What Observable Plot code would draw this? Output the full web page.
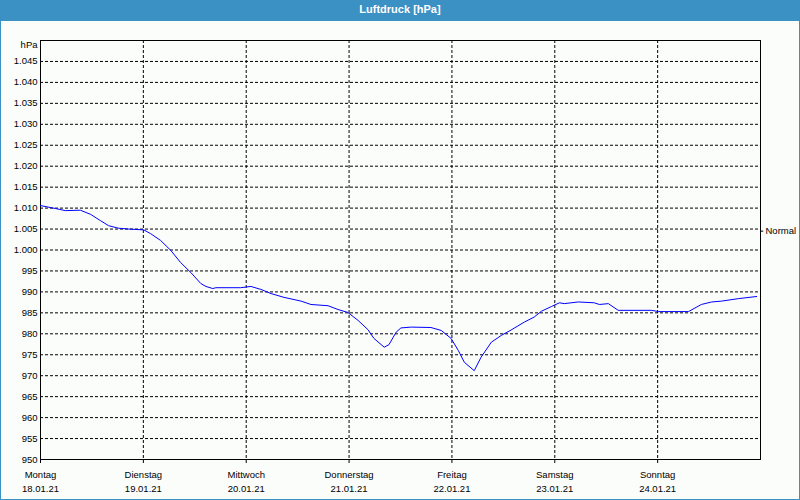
<!DOCTYPE html>
<html>
<head>
<meta charset="utf-8">
<script src="https://cdn.jsdelivr.net/npm/d3@7"></script>
<script src="https://cdn.jsdelivr.net/npm/@observablehq/plot@0.6"></script>
<style>
html, body { margin: 0; padding: 0; background: #fbfdfb; }
#wrap { position: relative; width: 800px; height: 500px; background: #fbfdfb; overflow: hidden; }
#title { position: absolute; left: 0; top: 0; width: 800px; height: 21px; background: #3b90c4; color: #fff;
  font: bold 11px "Liberation Sans", Arial, sans-serif; text-align: center; line-height: 19px; }
#chart { position: absolute; left: 0; top: 20px; }
#border { position: absolute; left: 0; top: 0; width: 800px; height: 500px; box-sizing: border-box;
  border: 1px solid #3b90c4; pointer-events: none; }
</style>
</head>
<body>
<div id="wrap">
  <div id="title">Luftdruck [hPa]</div>
  <div id="chart"></div>
  <div id="border"></div>
</div>
<script>
// Stunden seit Montag 18.01.21 00:00
const hours = [0, 3.5, 5.8, 9.3, 11.7, 14.0, 15.9, 18.2, 20.6, 24.1, 25.7, 28.0, 30.4, 32.7, 35.1, 37.4, 38.6, 40.2, 40.9,
  46.7, 49.1, 51.4, 53.8, 56.8, 60.8, 63.1, 67.1, 69.4, 71.7, 74.1, 76.4, 77.8, 80.2, 81.3, 83.0, 84.1, 86.5, 91.1,
  93.5, 95.8, 97.5, 98.9, 101.2, 102.8, 105.2, 107.5, 109.8, 112.9, 115.2, 116.9, 119.2, 121.1, 122.2, 125.5, 129.2,
  130.4, 132.5, 134.8, 142.6, 144.2, 151.2, 154.2, 156.6, 158.9, 162.9, 167.1];
// Luftdruck in hPa
const pressure = [1010.6, 1009.9, 1009.4, 1009.5, 1008.5, 1007.0, 1005.8, 1005.2, 1005.0, 1004.8, 1003.9, 1002.3, 999.9,
  997.0, 994.6, 992.0, 991.3, 990.8, 991.0, 991.0, 991.3, 990.6, 989.6, 988.7, 987.8, 987.0, 986.7, 985.8, 985.1, 983.2,
  981.0, 978.9, 976.8, 977.4, 980.4, 981.4, 981.6, 981.5, 980.8, 978.9, 976.0, 973.2, 971.2, 974.4, 978.0, 979.6, 980.9,
  982.8, 984.0, 985.4, 986.5, 987.4, 987.2, 987.6, 987.4, 987.0, 987.2, 985.6, 985.6, 985.3, 985.3, 987.0, 987.6, 987.8,
  988.4, 988.9];
const dayNames = ["Montag", "Dienstag", "Mittwoch", "Donnerstag", "Freitag", "Samstag", "Sonntag"];
const dayDates = ["18.01.21", "19.01.21", "20.01.21", "21.01.21", "22.01.21", "23.01.21", "24.01.21"];
const yTicks = [950, 955, 960, 965, 970, 975, 980, 985, 990, 995, 1000, 1005, 1010, 1015, 1020, 1025, 1030, 1035, 1040, 1045];
const yUnit = "hPa";
const normalLabel = "Normal";
const normalValue = 1004.5;

const start = Date.UTC(2021, 0, 18);
const end = Date.UTC(2021, 0, 25);
const data = hours.map((h, i) => ({ t: new Date(start + h * 3600e3), v: pressure[i] }));
const dayTicks = dayNames.map((_, i) => new Date(Date.UTC(2021, 0, 18 + i)));
const labelMap = new Map(dayTicks.map((d, i) => [+d, dayNames[i] + "\n" + dayDates[i]]));
const de = d3.formatLocale({ decimal: ",", thousands: ".", grouping: [3], currency: ["", "€"] });
const fmt = de.format(",");

const font = "Liberation Sans, Arial, sans-serif";
const dash = "3,2";

const chart = Plot.plot({
  width: 800,
  height: 480,
  marginTop: 20,
  marginBottom: 41,
  marginLeft: 40,
  marginRight: 40,
  style: { background: "transparent", fontFamily: font, fontSize: "9.5px", color: "#000", overflow: "visible" },
  x: { type: "utc", domain: [new Date(start), new Date(end)] },
  y: { domain: [950, 1050] },
  marks: [
    Plot.gridY(yTicks.slice(1), { stroke: "#000", strokeOpacity: 1, strokeDasharray: dash }),
    Plot.gridX(dayTicks.slice(1), { stroke: "#000", strokeOpacity: 1, strokeDasharray: dash }),
    Plot.axisX(dayTicks, {
      tickSize: 4, tickPadding: 4, lineHeight: 1.53, label: null,
      tickFormat: d => labelMap.get(+d), fill: "#000", stroke: "#000", strokeOpacity: 1,
      fontSize: 9.5
    }),
    Plot.axisY(yTicks, {
      tickSize: 0, tickPadding: 3, label: null, tickFormat: d => fmt(d), fill: "#000", fontSize: 9.5
    }),
    Plot.text([yUnit], { x: () => new Date(start), y: () => 1050, text: d => d, textAnchor: "end", dx: -3, dy: 4, fill: "#000", fontSize: 9.5 }),
    Plot.frame({ stroke: "#000", strokeWidth: 1 }),
    Plot.ruleY([normalValue], { x1: new Date(end), x2: new Date(end + 0.75 * 3600e3), stroke: "#000" }),
    Plot.text([normalLabel], { x: () => new Date(end), y: () => normalValue, text: d => d, textAnchor: "start", dx: 5, fill: "#000", fontSize: 9.5 }),
    Plot.line(data, { x: "t", y: "v", stroke: "#0000ff", strokeWidth: 1 })
  ]
});
document.getElementById("chart").appendChild(chart);
</script>
</body>
</html>
